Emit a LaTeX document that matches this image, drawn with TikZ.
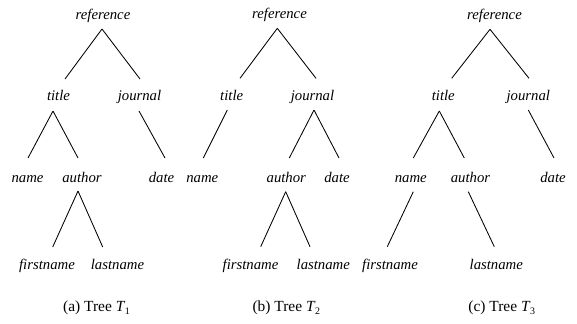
\documentclass[tikz,border=0pt]{standalone}
\usepackage{fontspec}
\setmainfont{Liberation Serif}
\newcommand{\capsub}[1]{\kern-0.5bp\raisebox{-3.5bp}{\fontsize{10}{10}\selectfont #1}}
\begin{document}
\begin{tikzpicture}[x=1bp,y=-1bp,
  lbl/.style={anchor=base,inner sep=0pt,font=\itshape\fontsize{14.8}{16}\selectfont},
  capt/.style={anchor=base,inner sep=0pt,font=\fontsize{15.5}{17}\selectfont},
  edge/.style={line width=0.85bp,black}]
\useasboundingbox (0,0) rectangle (577,323);
% ---------- Tree (a)
\node[lbl] (refA) at (103,19) {reference};
\node[lbl] (titleA) at (58.5,100) {title};
\node[lbl] (journalA) at (139.5,100) {journal};
\node[lbl] (nameA) at (27.5,182) {name};
\node[lbl] (authorA) at (82,182) {author};
\node[lbl] (dateA) at (161.5,182) {date};
\node[lbl] (firstA) at (47,269) {firstname};
\node[lbl] (lastA) at (117.5,269) {lastname};
\node[capt] (capA) at (96.5,311) {(a) Tree \textit{T}\capsub{1}};
\draw[edge] ([shift={(-1,10)}]refA.base) -- ([shift={(6.5,-21)}]titleA.base);
\draw[edge] ([shift={(-1,10)}]refA.base) -- ([shift={(0.5,-21)}]journalA.base);
\draw[edge] ([shift={(-5.5,11)}]titleA.base) -- ([shift={(0.5,-24)}]nameA.base);
\draw[edge] ([shift={(-5.5,11)}]titleA.base) -- ([shift={(-4,-24)}]authorA.base);
\draw[edge] ([shift={(-0.5,11)}]journalA.base) -- ([shift={(3.5,-24)}]dateA.base);
\draw[edge] ([shift={(-4,9)}]authorA.base) -- ([shift={(5.7,-22)}]firstA.base);
\draw[edge] ([shift={(-4,9)}]authorA.base) -- ([shift={(-14.8,-22)}]lastA.base);
% ---------- Tree (b)
\node[lbl] (refB) at (279.5,18) {reference};
\node[lbl] (titleB) at (231.7,100) {title};
\node[lbl] (journalB) at (312.5,100) {journal};
\node[lbl] (nameB) at (202.3,182) {name};
\node[lbl] (authorB) at (286.3,182) {author};
\node[lbl] (dateB) at (337,182) {date};
\node[lbl] (firstB) at (250.5,269) {firstname};
\node[lbl] (lastB) at (323.3,269) {lastname};
\node[capt] (capB) at (286.3,311) {(b) Tree \textit{T}\capsub{2}};
\draw[edge] ([shift={(-2.2,10.3)}]refB.base) -- ([shift={(8.3,-21.7)}]titleB.base);
\draw[edge] ([shift={(-2.2,10.3)}]refB.base) -- ([shift={(3.5,-21.7)}]journalB.base);
\draw[edge] ([shift={(-4.4,10)}]titleB.base) -- ([shift={(1,-24)}]nameB.base);
\draw[edge] ([shift={(1.5,10)}]journalB.base) -- ([shift={(3,-24)}]authorB.base);
\draw[edge] ([shift={(1.5,10)}]journalB.base) -- ([shift={(2,-24)}]dateB.base);
\draw[edge] ([shift={(-0.6,9.7)}]authorB.base) -- ([shift={(10.2,-22.3)}]firstB.base);
\draw[edge] ([shift={(-0.6,9.7)}]authorB.base) -- ([shift={(-13.3,-22.3)}]lastB.base);
% ---------- Tree (c)
\node[lbl] (refC) at (494.5,19) {reference};
\node[lbl] (titleC) at (443.3,100) {title};
\node[lbl] (journalC) at (528.3,100) {journal};
\node[lbl] (nameC) at (410.8,182) {name};
\node[lbl] (authorC) at (470.5,182) {author};
\node[lbl] (dateC) at (553,182) {date};
\node[lbl] (firstC) at (390,269) {firstname};
\node[lbl] (lastC) at (496.3,269) {lastname};
\node[capt] (capC) at (501.7,311) {(c) Tree \textit{T}\capsub{3}};
\draw[edge] ([shift={(-4.5,10.3)}]refC.base) -- ([shift={(8.4,-21.7)}]titleC.base);
\draw[edge] ([shift={(-4.5,10.3)}]refC.base) -- ([shift={(0.7,-21.7)}]journalC.base);
\draw[edge] ([shift={(-4,11)}]titleC.base) -- ([shift={(2.5,-24)}]nameC.base);
\draw[edge] ([shift={(-4,11)}]titleC.base) -- ([shift={(-6.2,-24)}]authorC.base);
\draw[edge] ([shift={(0,10)}]journalC.base) -- ([shift={(1,-24)}]dateC.base);
\draw[edge] ([shift={(2.5,9.7)}]nameC.base) -- ([shift={(-2.7,-22.3)}]firstC.base);
\draw[edge] ([shift={(-2.2,9.7)}]authorC.base) -- ([shift={(-2,-22.3)}]lastC.base);
\end{tikzpicture}
\end{document}
